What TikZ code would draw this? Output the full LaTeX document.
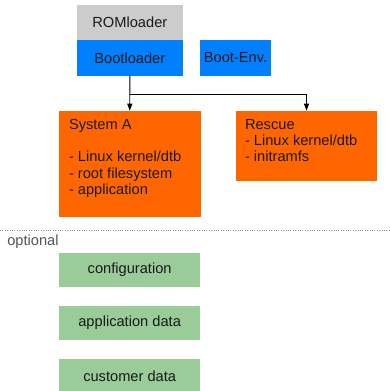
\documentclass[tikz,border=0pt]{standalone}
\usepackage{fontspec}
\setmainfont{Liberation Sans}
\usetikzlibrary{arrows.meta}
\definecolor{romgray}{HTML}{CCCCCC}
\definecolor{bootblue}{HTML}{0080FF}
\definecolor{sysorange}{HTML}{FF6600}
\definecolor{optgreen}{HTML}{99CC99}
\definecolor{txt}{HTML}{1A1A1A}
\definecolor{opttxt}{HTML}{555555}
\definecolor{dotline}{HTML}{8C8C8C}
\begin{document}
\begin{tikzpicture}[x=1bp,y=-1bp,
  box/.style={rectangle, inner sep=0pt, outer sep=0pt, draw=none,
    font=\fontsize{14.7}{16}\selectfont, text=txt},
  lbl/.style={inner sep=0pt, outer sep=0pt, anchor=base west,
    font=\fontsize{14.7}{16}\selectfont, text=txt},
  conn/.style={draw=black, line width=0.9bp, -{Triangle[length=7bp,width=5bp]}}]
\useasboundingbox (0,0) rectangle (390,391);
\fill[white] (0,0) rectangle (390,391);
% top boxes
\node[box, fill=romgray, minimum width=106.3bp, minimum height=35.3bp] (rom) at (129.85,22.65) {ROMloader};
\node[box, fill=bootblue, minimum width=106.3bp, minimum height=35.4bp] (boot) at (129.85,58) {Bootloader};
\node[box, fill=bootblue, minimum width=71bp, minimum height=35.4bp] (env) at (235.5,58) {Boot-Env.};
% system boxes
\node[box, fill=sysorange, minimum width=141.5bp, minimum height=106bp] (sysA) at (129.75,163.7) {};
\node[box, fill=sysorange, minimum width=141bp, minimum height=70.3bp] (rescue) at (306.5,145.85) {};
\node[lbl] (sysAt) at (69,129.3) {System A};
\node[lbl] (sysA1) at (69,161.8) {- Linux kernel/dtb};
\node[lbl] (sysA2) at (69,178.0) {- root filesystem};
\node[lbl] (sysA3) at (69,194.3) {- application};
\node[lbl] (rest) at (245,129.3) {Rescue};
\node[lbl] (res1) at (245,145.4) {- Linux kernel/dtb};
\node[lbl] (res2) at (245,161.5) {- initramfs};
% connectors
\coordinate (split) at (129.85,94.7);
\draw[conn] (boot.south) -- (sysA.north);
\draw[conn] (split) -| (rescue.north);
% optional separator
\coordinate (dl) at (0,230.7);
\coordinate (dr) at (390,230.7);
\draw[dotline, line width=0.7bp, dash pattern=on 0.9bp off 1.5bp] (dl) -- (dr);
\node[lbl, text=opttxt] (opt) at (7.3,245) {optional};
% optional boxes
\node[box, fill=optgreen, minimum width=140.7bp, minimum height=34.6bp] (config) at (129.65,270) {configuration};
\node[box, fill=optgreen, minimum width=140.7bp, minimum height=34.6bp] (appdata) at (129.65,323) {application data};
\node[box, fill=optgreen, minimum width=140.7bp, minimum height=34.6bp] (custdata) at (129.65,376) {customer data};
\end{tikzpicture}
\end{document}
